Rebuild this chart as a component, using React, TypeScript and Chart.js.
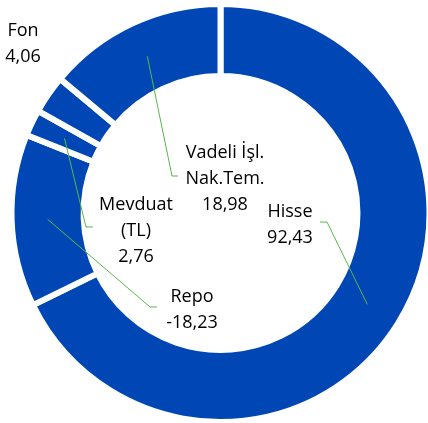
import React, { useEffect, useRef } from "react";
import { Chart, registerables } from "chart.js";

Chart.register(...registerables);

const categories: string[][] = [["Hisse"], ["Repo"], ["Mevduat", "(TL)"], ["Fon"], ["Vadeli İşl.", "Nak.Tem."]];
const values: number[] = [92.43, -18.23, 2.76, 4.06, 18.98];

// label placement relative to chart centre: text centre x, first baseline y, optional leader elbow & end
const labelLayout = [
  { dx: 69.5, dy: 4, elbow: [106.5, 9], end: [99.5, 9] },
  { dx: -28.5, dy: 89, elbow: [-70.5, 94], end: [-63.5, 94] },
  { dx: -84.5, dy: -3, elbow: [-134.5, 14], end: [-127.5, 14] },
  { dx: -197.5, dy: -177, elbow: null, end: null },
  { dx: 4.5, dy: -55, elbow: [-48.5, -37], end: [-42.5, -37] },
];

const BLUE = "#0047B5";
const GREEN = "#55B947";
const FONT = "18px 'Open Sans', 'Noto Sans', sans-serif";
const LINE_H = 26;

const fmt = (v: number) => v.toFixed(2).replace(".", ",");

const labelPlugin = {
  id: "centerLabels",
  afterDatasetsDraw(chart: any) {
    const ctx = chart.ctx as CanvasRenderingContext2D;
    const meta = chart.getDatasetMeta(0);
    const arc0 = meta.data[0] as any;
    const cx = arc0.x;
    const cy = arc0.y;
    ctx.save();
    ctx.strokeStyle = GREEN;
    ctx.lineWidth = 1;
    meta.data.forEach((arc: any, i: number) => {
      const lay = labelLayout[i];
      if (!lay.elbow || !lay.end) return;
      const p = arc.getCenterPoint();
      ctx.beginPath();
      ctx.moveTo(p.x, p.y);
      ctx.lineTo(cx + lay.elbow[0], cy + lay.elbow[1]);
      ctx.lineTo(cx + lay.end[0], cy + lay.end[1]);
      ctx.stroke();
    });
    ctx.fillStyle = "#000";
    ctx.font = FONT;
    ctx.textAlign = "center";
    ctx.textBaseline = "alphabetic";
    categories.forEach((lines, i) => {
      const lay = labelLayout[i];
      const all = [...lines, fmt(values[i])];
      all.forEach((t, j) => {
        ctx.fillText(t, cx + lay.dx, cy + lay.dy + j * LINE_H);
      });
    });
    ctx.restore();
  },
};

export default function App() {
  const ref = useRef<HTMLCanvasElement | null>(null);
  useEffect(() => {
    if (!ref.current) return;
    const chart = new Chart(ref.current, {
      type: "doughnut",
      data: {
        labels: categories.map((c) => c.join(" ")),
        datasets: [
          {
            data: values.map((v) => Math.abs(v)),
            backgroundColor: BLUE,
            borderColor: "#ffffff",
            borderWidth: 6,
            hoverOffset: 0,
          },
        ],
      },
      options: {
        responsive: false,
        animation: false,
        radius: 209,
        cutout: 134,
        layout: { padding: { left: 13, top: 3, right: 0, bottom: 0 } },
        plugins: {
          legend: { display: false },
          tooltip: { enabled: false },
        },
      } as any,
      plugins: [labelPlugin],
    });
    return () => chart.destroy();
  }, []);
  return (
    <div style={{ position: "absolute", left: 0, top: 0, width: 428, height: 423, background: "#fff" }}>
      <canvas ref={ref} width={428} height={423} style={{ display: "block" }} />
    </div>
  );
}
